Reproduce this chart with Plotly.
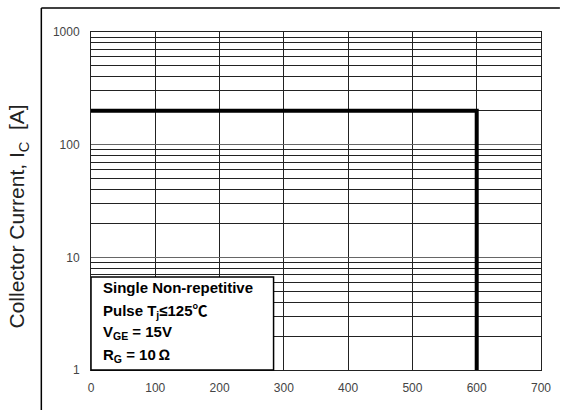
import plotly.graph_objects as go

# Safe operating area boundary (collector-emitter voltage vs. collector current)
soa_vce = [0, 600, 600]
soa_ic = [200, 200, 1]

x_ticks = [0, 100, 200, 300, 400, 500, 600, 700]
y_ticks = [1, 10, 100, 1000]

CJK = "font-family:'Noto Sans CJK SC'"
note_lines = [
    "Single Non-repetitive",
    f"Pulse T<sub>j</sub>\u2264125<span style=\"{CJK}\">\u2103</span>",
    "V<sub>GE</sub> = 15V",
    "R<sub>G</sub> = 10\u2009\u2126",
]

W, H = 563, 410
L, R, T, B = 91, 19, 32, 40
pw, ph = W - L - R, H - T - B


def px_x(p):
    return (p - L) / pw


def px_y(p):
    return (H - B - p) / ph


fig = go.Figure()
fig.add_trace(go.Scatter(
    x=soa_vce, y=soa_ic, mode="lines",
    line=dict(color="black", width=4), showlegend=False,
    hoverinfo="skip",
))

fig.update_layout(
    width=W, height=H,
    margin=dict(l=L, r=R, t=T, b=B),
    paper_bgcolor="white", plot_bgcolor="white",
    font=dict(family="Liberation Sans, Arial, sans-serif", color="#333"),
    showlegend=False,
)

fig.update_xaxes(
    range=[0, 700], tickvals=x_ticks, ticktext=[str(v) for v in x_ticks],
    showgrid=True, gridcolor="#222", gridwidth=1,
    showline=True, linecolor="#222", linewidth=1, mirror=True,
    ticks="", ticklabelstandoff=7, tickfont=dict(size=12, color="#444"),
    zeroline=False,
)
fig.update_yaxes(
    type="log", range=[0, 3], tickvals=y_ticks,
    ticktext=[str(v) for v in y_ticks],
    showgrid=True, gridcolor="#666", gridwidth=1,
    minor=dict(dtick="D1", showgrid=True, gridcolor="#222", gridwidth=1, ticks=""),
    showline=True, linecolor="#222", linewidth=1, mirror=True,
    ticks="", ticklabelstandoff=8, tickfont=dict(size=12, color="#444"),
    zeroline=False,
)

# outer frame (top and left edges)
fig.add_shape(type="line", xref="paper", yref="paper",
              x0=px_x(41), x1=px_x(563), y0=px_y(8), y1=px_y(8),
              line=dict(color="black", width=1.5))
fig.add_shape(type="line", xref="paper", yref="paper",
              x0=px_x(41), x1=px_x(41), y0=px_y(8), y1=px_y(410),
              line=dict(color="black", width=1.5))

# condition box
fig.add_shape(type="rect", xref="x", yref="paper",
              x0=0, x1=284, y0=0, y1=px_y(277),
              fillcolor="white", line=dict(color="black", width=1.5),
              layer="above")

note_y = [287, 310, 332, 355]
for txt, yy in zip(note_lines, note_y):
    fig.add_annotation(
        text=txt, xref="paper", yref="paper",
        x=px_x(101), y=px_y(yy), xanchor="left", yanchor="middle",
        showarrow=False,
        font=dict(family="Liberation Sans, Arial, sans-serif",
                  size=15, color="black", weight="bold"),
    )

# y axis title
fig.add_annotation(
    text="Collector Current, I<sub>C</sub>  [A]", xref="paper", yref="paper",
    x=px_x(18), y=px_y(216), xanchor="center", yanchor="middle",
    textangle=-90, showarrow=False,
    font=dict(family="Liberation Sans, Arial, sans-serif", size=21, color="#222"),
)

fig.write_html("out.html")
